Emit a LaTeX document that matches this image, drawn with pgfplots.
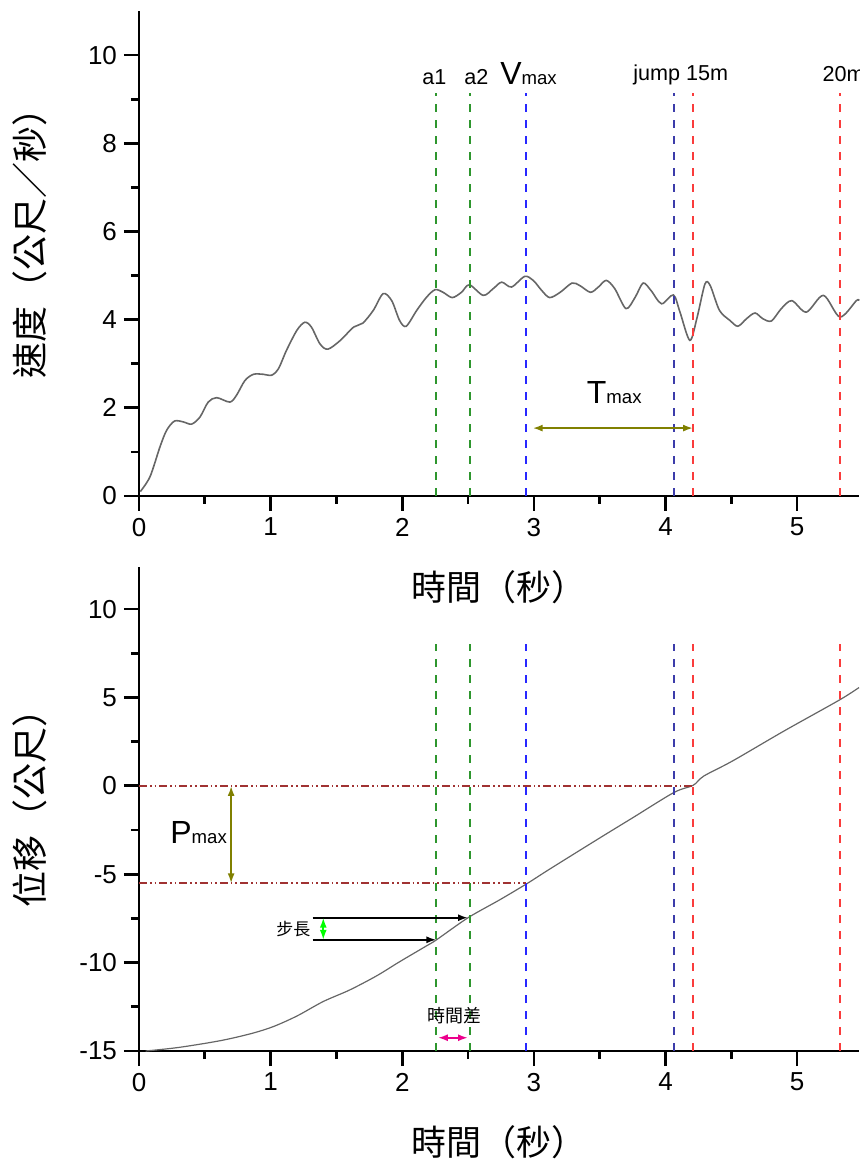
\documentclass[border=0pt]{standalone}
\usepackage{fontspec}
\setmainfont{Liberation Sans}
\newfontfamily\cjk{Noto Sans CJK TC}
\usepackage{pgfplots}
\pgfplotsset{compat=1.18}
\usetikzlibrary{arrows.meta}

\definecolor{lgreen}{RGB}{46,150,46}
\definecolor{lblue}{RGB}{40,40,255}
\definecolor{lnavy}{RGB}{60,60,170}
\definecolor{lred}{RGB}{250,60,60}
\definecolor{olv}{RGB}{128,128,0}
\definecolor{ddred}{RGB}{160,50,50}

\pgfplotsset{
  base/.style={
    scale only axis, width=360pt, anchor=south west,
    xmin=0, xmax=5.47, xtick={0,...,5}, minor x tick num=1,
    axis x line=bottom, axis y line=left,
    axis line style={-, line width=1.35pt},
    tick align=outside, major tick length=7.5pt, minor tick length=4pt,
    every tick/.style={black, line width=1.35pt},
    tick label style={font=\fontsize{13}{13}\selectfont},
    /pgf/number format/assume math mode=true,
    clip=false,
    xlabel={\cjk\fontsize{17.5}{17.5}\selectfont 時間（秒）},
    xlabel style={at={(axis description cs:0.5,0)}, anchor=center, yshift=-45.5pt},
  },
}
\tikzset{
  vline/.style={line width=1pt, dash pattern=on 4pt off 4pt},
  curve/.style={black!60, line width=0.8pt, smooth},
  lbl/.style={font=\fontsize{10.8}{10.8}\selectfont},
  arr/.style={{Latex[length=5pt,width=3.5pt]}-{Latex[length=5pt,width=3.5pt]}},
}

\begin{document}
\begin{tikzpicture}
\path[use as bounding box] (0,0) rectangle (429.5pt,581pt);

% speed
\begin{axis}[base, at={(69.5pt,333pt)}, height=242.5pt,
  ymin=0, ymax=11, ytick={0,2,...,10}, minor y tick num=1,
  ylabel={\cjk\fontsize{18}{18}\selectfont 速度（公尺／秒）},
  ylabel style={at={(axis description cs:-0.1514,0.54)}, anchor=center}]
\addplot[curve] coordinates {
 (0.01,0.1) (0.084,0.44) (0.16,1.12) (0.21,1.49) (0.27,1.70) (0.337,1.68)
 (0.40,1.63) (0.463,1.79) (0.526,2.13) (0.59,2.23) (0.69,2.13) (0.74,2.28)
 (0.805,2.62) (0.87,2.76) (0.944,2.76) (1.008,2.74) (1.06,2.89) (1.12,3.30)
 (1.20,3.76) (1.26,3.94) (1.31,3.83) (1.375,3.45) (1.435,3.33) (1.53,3.53)
 (1.63,3.83) (1.70,3.92) (1.78,4.21) (1.855,4.59) (1.92,4.43) (1.98,3.98)
 (2.03,3.85) (2.11,4.21) (2.185,4.51) (2.25,4.68) (2.31,4.62) (2.38,4.50)
 (2.45,4.62) (2.51,4.79) (2.615,4.55) (2.69,4.70) (2.755,4.85) (2.83,4.74)
 (2.93,4.98) (2.995,4.89) (3.06,4.66) (3.12,4.50) (3.20,4.62) (3.29,4.83)
 (3.35,4.77) (3.43,4.62) (3.49,4.74) (3.55,4.89) (3.615,4.70) (3.70,4.25)
 (3.77,4.51) (3.83,4.83) (3.89,4.66) (3.97,4.36) (4.06,4.56) (4.11,4.17)
 (4.185,3.53) (4.24,4.05) (4.30,4.81) (4.34,4.77) (4.41,4.21) (4.49,3.98)
 (4.55,3.85) (4.615,4.02) (4.68,4.15) (4.74,4.02) (4.805,3.97) (4.88,4.25)
 (4.96,4.43) (5.07,4.17) (5.20,4.55) (5.325,4.06) (5.45,4.43) (5.47,4.43)};
\addplot[vline, lgreen] coordinates {(2.256,0) (2.256,9.14)};
\addplot[vline, lgreen] coordinates {(2.514,0) (2.514,9.14)};
\addplot[vline, lblue]  coordinates {(2.94,0) (2.94,9.14)};
\addplot[vline, lnavy]  coordinates {(4.063,0) (4.063,9.14)};
\addplot[vline, lred]   coordinates {(4.21,0) (4.21,9.14)};
\addplot[vline, lred]   coordinates {(5.325,0) (5.325,9.14)};
\addplot[arr, olv, line width=1pt] coordinates {(2.99,1.54) (4.21,1.54)};
\node[lbl, anchor=base] at (axis cs:2.245,9.34) {a1};
\node[lbl, anchor=base] at (axis cs:2.563,9.34) {a2};
\node[anchor=base west, inner sep=0pt] at (axis cs:2.742,9.34)
  {\fontsize{16}{16}\selectfont V\fontsize{9.3}{9.3}\selectfont max};
\node[lbl, anchor=base west, inner sep=0pt] at (axis cs:3.752,9.43) {jump 15m};
\node[lbl, anchor=base west, inner sep=0pt] at (axis cs:5.19,9.39) {20m};
\node[anchor=base west, inner sep=0pt] at (axis cs:3.40,2.10)
  {\fontsize{16}{16}\selectfont T\fontsize{9.3}{9.3}\selectfont max};
\end{axis}

% displacement
\begin{axis}[base, at={(69.5pt,55.5pt)}, height=242pt,
  ymin=-15, ymax=12.38, ytick={-15,-10,...,10}, minor y tick num=1,
  ylabel={\cjk\fontsize{18}{18}\selectfont 位移（公尺）},
  ylabel style={at={(axis description cs:-0.1514,0.52)}, anchor=center}]
\addplot[curve, line width=0.6pt] coordinates {
 (0.05,-15.0) (0.3,-14.8) (0.615,-14.42) (0.85,-14.02) (1.02,-13.62)
 (1.2,-13.02) (1.4,-12.2) (1.6,-11.55) (1.805,-10.75) (1.98,-9.95)
 (2.185,-9.05) (2.26,-8.71) (2.5,-7.46) (2.74,-6.45) (2.95,-5.52)
 (3.12,-4.71) (3.5,-2.95) (3.75,-1.81) (4.063,-0.38) (4.21,0.03)
 (4.29,0.55) (4.51,1.41) (4.9,3.1) (5.32,4.85) (5.47,5.56)};
\addplot[vline, lgreen] coordinates {(2.256,-15) (2.256,8.03)};
\addplot[vline, lgreen] coordinates {(2.514,-15) (2.514,8.03)};
\addplot[vline, lblue]  coordinates {(2.94,-15) (2.94,8.03)};
\addplot[vline, lnavy]  coordinates {(4.063,-15) (4.063,8.03)};
\addplot[vline, lred]   coordinates {(4.21,-15) (4.21,8.03)};
\addplot[vline, lred]   coordinates {(5.325,-15) (5.325,8.03)};
\addplot[ddred, line width=1pt,
  dash pattern=on 4pt off 1.5pt on 0.8pt off 1.5pt on 0.8pt off 1.5pt]
  coordinates {(0,0) (4.21,0)};
\addplot[ddred, line width=1pt,
  dash pattern=on 4pt off 1.5pt on 0.8pt off 1.5pt on 0.8pt off 1.5pt]
  coordinates {(0,-5.52) (2.94,-5.52)};
\addplot[arr, olv, line width=1pt] coordinates {(0.70,0) (0.70,-5.52)};
\addplot[black, line width=1pt, -{Latex[length=5pt,width=3.5pt]}]
  coordinates {(1.32,-7.46) (2.50,-7.46)};
\addplot[black, line width=1pt, -{Latex[length=5pt,width=3.5pt]}]
  coordinates {(1.32,-8.71) (2.26,-8.71)};
\addplot[arr, green, line width=0.8pt] coordinates {(1.40,-7.46) (1.40,-8.71)};
\addplot[arr, magenta, line width=1.2pt] coordinates {(2.27,-14.25) (2.50,-14.25)};
\node[anchor=base west, inner sep=0pt] at (axis cs:0.235,-3.28)
  {\fontsize{16}{16}\selectfont P\fontsize{9.3}{9.3}\selectfont max};
\node[anchor=east, inner sep=1pt] at (axis cs:1.32,-8.09)
  {\cjk\fontsize{8.5}{8.5}\selectfont 步長};
\node[anchor=center] at (axis cs:2.40,-13.0)
  {\cjk\fontsize{9}{9}\selectfont 時間差};
\end{axis}
\end{tikzpicture}
\end{document}
